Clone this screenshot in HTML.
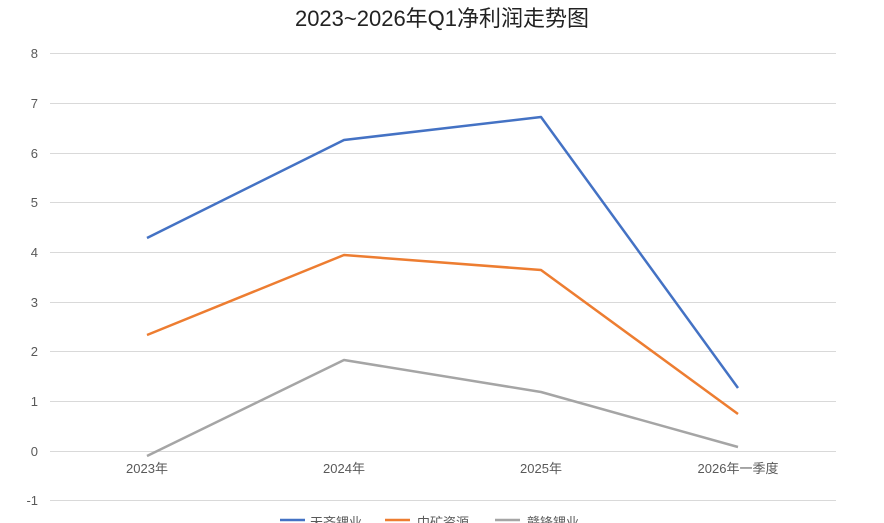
<!DOCTYPE html>
<html><head><meta charset="utf-8"><style>
body{margin:0;background:#fff;}
svg{display:block;font-family:"Liberation Sans","Noto Sans CJK SC",sans-serif;}
</style></head><body>
<svg width="884" height="523" viewBox="0 0 884 523">
<text x="442" y="26" text-anchor="middle" font-size="22" fill="#222">2023~2026年Q1净利润走势图</text>
<g stroke="#d9d9d9" stroke-width="1">
<line x1="50" y1="53.5" x2="836" y2="53.5"/>
<line x1="50" y1="103.5" x2="836" y2="103.5"/>
<line x1="50" y1="153.5" x2="836" y2="153.5"/>
<line x1="50" y1="202.5" x2="836" y2="202.5"/>
<line x1="50" y1="252.5" x2="836" y2="252.5"/>
<line x1="50" y1="302.5" x2="836" y2="302.5"/>
<line x1="50" y1="351.5" x2="836" y2="351.5"/>
<line x1="50" y1="401.5" x2="836" y2="401.5"/>
<line x1="50" y1="451.5" x2="836" y2="451.5"/>
<line x1="50" y1="500.5" x2="836" y2="500.5"/>
</g>
<g font-size="13" fill="#595959" text-anchor="end">
<text x="38" y="58">8</text><text x="38" y="108">7</text><text x="38" y="158">6</text>
<text x="38" y="207">5</text><text x="38" y="257">4</text><text x="38" y="307">3</text>
<text x="38" y="356">2</text><text x="38" y="406">1</text><text x="38" y="456">0</text>
<text x="38" y="505">-1</text>
</g>
<g font-size="13" fill="#595959" text-anchor="middle">
<text x="147" y="473">2023年</text><text x="344" y="473">2024年</text>
<text x="541" y="473">2025年</text><text x="738" y="473">2026年一季度</text>
</g>
<g fill="none" stroke-width="2.5" stroke-linejoin="round">
<polyline stroke="#4472c4" points="147,238 344,140 541,117 738,388"/>
<polyline stroke="#ed7d31" points="147,335 344,255 541,270 738,414"/>
<polyline stroke="#a5a5a5" points="147,456 344,360 541,392 738,447"/>
</g>
<g font-size="13" fill="#595959">
<line x1="280" y1="520" x2="305" y2="520" stroke="#4472c4" stroke-width="2.5"/>
<text x="310" y="527">天齐锂业</text>
<line x1="385" y1="520" x2="410" y2="520" stroke="#ed7d31" stroke-width="2.5"/>
<text x="417" y="527">中矿资源</text>
<line x1="495" y1="520" x2="520" y2="520" stroke="#a5a5a5" stroke-width="2.5"/>
<text x="527" y="527">赣锋锂业</text>
</g>
</svg>
</body></html>
